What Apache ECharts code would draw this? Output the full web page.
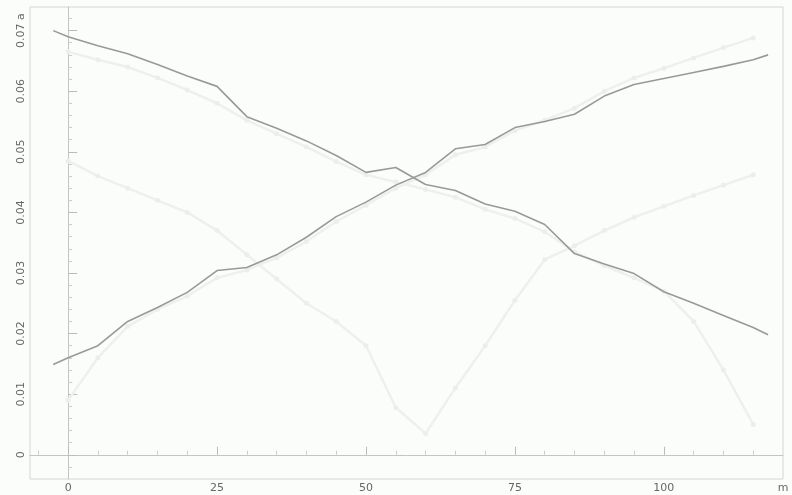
<!DOCTYPE html>
<html>
<head>
<meta charset="utf-8">
<script src="https://cdn.jsdelivr.net/npm/echarts@6/dist/echarts.min.js"></script>
<style>html,body{margin:0;padding:0;background:#fbfdfb;}#c{width:792px;height:495px;}</style>
</head>
<body>
<div id="c"></div>
<script>
// x positions (m)
const xDark = [-2.5,0,5,10,15,20,25,30,35,40,45,50,55,60,65,70,75,80,85,90,95,100,105,110,115,117.5];
const decDark = [0.0700,0.0690,0.0675,0.0662,0.0644,0.0625,0.0608,0.0558,0.0539,0.0518,0.0494,0.0466,0.0474,0.0446,0.0436,0.0414,0.0402,0.0380,0.0332,0.0315,0.0299,0.0269,0.0250,0.0230,0.0210,0.0198];
const incDark = [0.0149,0.0160,0.0180,0.0220,0.0243,0.0268,0.0304,0.0309,0.0330,0.0359,0.0393,0.0417,0.0445,0.0466,0.0505,0.0512,0.0540,0.0550,0.0562,0.0592,0.0611,0.0621,0.0631,0.0641,0.0652,0.0660];

const xFaint = [0,5,10,15,20,25,30,35,40,45,50,55,60,65,70,75,80,85,90,95,100,105,110,115];
const decFaint = [0.0665,0.0652,0.0640,0.0622,0.0602,0.0580,0.0552,0.0530,0.0508,0.0484,0.0462,0.0450,0.0438,0.0425,0.0405,0.0390,0.0368,0.0335,0.0312,0.0292,0.0270,0.0220,0.0140,0.0050];
const incFaint = [0.0090,0.0160,0.0212,0.0240,0.0262,0.0292,0.0305,0.0325,0.0352,0.0385,0.0412,0.0440,0.0462,0.0495,0.0508,0.0535,0.0552,0.0572,0.0600,0.0622,0.0638,0.0655,0.0672,0.0688];
const vFaint = [0.0485,0.0460,0.0440,0.0420,0.0400,0.0370,0.0330,0.0290,0.0250,0.0220,0.0180,0.0078,0.0035,0.0110,0.0180,0.0255,0.0322,0.0345,0.0370,0.0392,0.0410,0.0428,0.0445,0.0462];

const xLabelVals = [0,25,50,75,100,120];
const xMinorVals = [-5,5,10,15,20,30,35,40,45,55,60,65,70,80,85,90,95,105,110,115];
const yLabelVals = [0,0.01,0.02,0.03,0.04,0.05,0.06,0.07];
const yMinorVals = [-0.002,0.002,0.004,0.006,0.008,0.012,0.014,0.016,0.018,0.022,0.024,0.026,0.028,0.032,0.034,0.036,0.038,0.042,0.044,0.046,0.048,0.052,0.054,0.056,0.058,0.062,0.064,0.066,0.068,0.072];

const pairs = (xs, ys) => xs.map((x, i) => [x, ys[i]]);

const X_MIN = -6.4, X_MAX = 120, Y_MIN = -0.004, Y_MAX = 0.0739;
const axisCol = '#c4c4c4';
const labCol = '#666';

const chart = echarts.init(document.getElementById('c'), null, {renderer: 'canvas'});
const faintStyle = {color: '#eef0ee', width: 2.5};
const faintItem = {color: '#eceeec'};
chart.setOption({
  animation: false,
  backgroundColor: '#fbfdfb',
  grid: {left: 30, right: 9, top: 7, bottom: 16, show: true, borderColor: '#d4d4d4', borderWidth: 1, backgroundColor: 'transparent'},
  xAxis: [
    {type: 'value', min: X_MIN, max: X_MAX, splitLine: {show: false},
     axisLine: {show: true, lineStyle: {color: axisCol}},
     axisTick: {show: true, inside: true, length: 8, lineStyle: {color: '#bbb'}, customValues: [0,25,50,75,100]},
     axisLabel: {color: labCol, fontSize: 11, fontFamily: 'DejaVu Sans', margin: 4, customValues: xLabelVals,
                 formatter: v => v === 120 ? 'm' : String(v)}},
    {type: 'value', min: X_MIN, max: X_MAX, position: 'bottom', splitLine: {show: false},
     axisLine: {show: false},
     axisTick: {show: true, inside: true, length: 4, lineStyle: {color: '#ccc'}, customValues: xMinorVals},
     axisLabel: {show: false}}
  ],
  yAxis: [
    {type: 'value', min: Y_MIN, max: Y_MAX, splitLine: {show: false},
     axisLine: {show: true, lineStyle: {color: axisCol}},
     axisTick: {show: true, inside: true, length: 9, lineStyle: {color: '#bbb'}, customValues: yLabelVals},
     axisLabel: {color: labCol, fontSize: 11, fontFamily: 'DejaVu Sans', rotate: 90, margin: 3, customValues: yLabelVals,
                 formatter: v => Math.abs(v - 0.07) < 1e-9 ? '0.07 a' : String(+v.toFixed(2))}},
    {type: 'value', min: Y_MIN, max: Y_MAX, position: 'left', splitLine: {show: false},
     axisLine: {show: false},
     axisTick: {show: true, inside: true, length: 4, lineStyle: {color: '#ccc'}, customValues: yMinorVals},
     axisLabel: {show: false}}
  ],
  series: [
    {type: 'line', data: pairs(xFaint, vFaint), symbol: 'circle', symbolSize: 5,
     itemStyle: faintItem, lineStyle: faintStyle, z: 1},
    {type: 'line', data: pairs(xFaint, decFaint), symbol: 'circle', symbolSize: 5,
     itemStyle: faintItem, lineStyle: faintStyle, z: 1},
    {type: 'line', data: pairs(xFaint, incFaint), symbol: 'circle', symbolSize: 5,
     itemStyle: faintItem, lineStyle: faintStyle, z: 1},
    {type: 'line', data: pairs(xDark, decDark), symbol: 'none',
     lineStyle: {color: '#999', width: 1.6}, z: 3},
    {type: 'line', data: pairs(xDark, incDark), symbol: 'none',
     lineStyle: {color: '#999', width: 1.6}, z: 3}
  ]
});
</script>
</body>
</html>
